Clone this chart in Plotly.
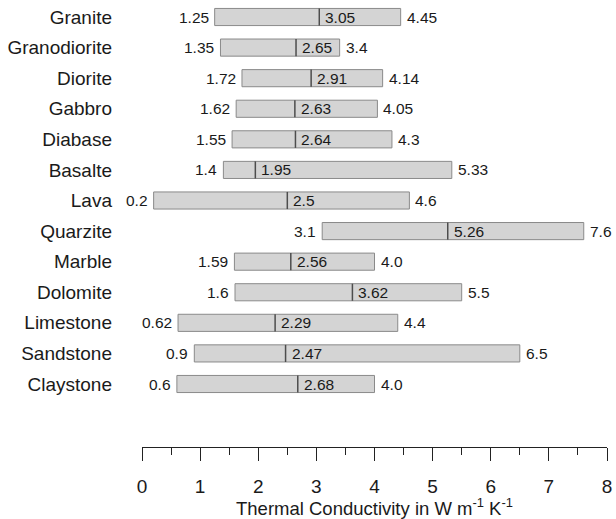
import plotly.graph_objects as go

rocks = ["Granite", "Granodiorite", "Diorite", "Gabbro", "Diabase", "Basalte", "Lava",
         "Quarzite", "Marble", "Dolomite", "Limestone", "Sandstone", "Claystone"]
mins = [1.25, 1.35, 1.72, 1.62, 1.55, 1.4, 0.2, 3.1, 1.59, 1.6, 0.62, 0.9, 0.6]
means = [3.05, 2.65, 2.91, 2.63, 2.64, 1.95, 2.5, 5.26, 2.56, 3.62, 2.29, 2.47, 2.68]
maxs = [4.45, 3.4, 4.14, 4.05, 4.3, 5.33, 4.6, 7.6, 4.0, 5.5, 4.4, 6.5, 4.0]
min_lbl = ["1.25", "1.35", "1.72", "1.62", "1.55", "1.4", "0.2", "3.1", "1.59", "1.6", "0.62", "0.9", "0.6"]
mean_lbl = ["3.05", "2.65", "2.91", "2.63", "2.64", "1.95", "2.5", "5.26", "2.56", "3.62", "2.29", "2.47", "2.68"]
max_lbl = ["4.45", "3.4", "4.14", "4.05", "4.3", "5.33", "4.6", "7.6", "4.0", "5.5", "4.4", "6.5", "4.0"]
x_ticks = [0, 1, 2, 3, 4, 5, 6, 7, 8]
x_title = "Thermal Conductivity in W m<sup>-1</sup> K<sup>-1</sup>"

FONT = "Liberation Sans, Arial, sans-serif"
TXT = "#1a1a1a"
ypos = list(range(len(rocks)))
half = 0.28

fig = go.Figure()
fig.add_trace(go.Bar(
    y=ypos, x=[mx - mn for mn, mx in zip(mins, maxs)], base=mins,
    orientation="h", width=2 * half,
    marker=dict(color="#d4d4d4", line=dict(color="#8a8a8a", width=1)),
    hoverinfo="skip", showlegend=False,
))

lx, ly = [], []
for i, m in enumerate(means):
    lx += [m, m, None]
    ly += [i - half, i + half, None]
fig.add_trace(go.Scatter(x=lx, y=ly, mode="lines",
                         line=dict(color="#4d4d4d", width=1.5),
                         hoverinfo="skip", showlegend=False))

VS = 15.5
ann = []
for i in range(len(rocks)):
    ann.append(dict(x=mins[i], y=i, xref="x", yref="y", text=min_lbl[i],
                    showarrow=False, xanchor="right", xshift=-4,
                    font=dict(size=VS, color=TXT, family=FONT)))
    ann.append(dict(x=means[i], y=i, xref="x", yref="y", text=mean_lbl[i],
                    showarrow=False, xanchor="left", xshift=4,
                    font=dict(size=VS, color=TXT, family=FONT)))
    ann.append(dict(x=maxs[i], y=i, xref="x", yref="y", text=max_lbl[i],
                    showarrow=False, xanchor="left", xshift=4,
                    font=dict(size=VS, color=TXT, family=FONT)))
ann.append(dict(x=0.5, y=-(507 - 447) / 447, xref="paper", yref="paper",
                text=x_title, showarrow=False, xanchor="center", yanchor="middle",
                font=dict(size=18.5, color=TXT, family=FONT)))

fig.update_layout(
    width=616, height=519,
    margin=dict(l=142, r=9, t=0, b=72),
    plot_bgcolor="white", paper_bgcolor="white",
    annotations=ann,
    xaxis=dict(
        range=[0, 8], tickvals=x_ticks, automargin=False,
        showgrid=False, zeroline=False,
        showline=True, linecolor="#222", linewidth=1.2,
        ticks="outside", ticklen=13, tickcolor="#222", tickwidth=1.2,
        minor=dict(dtick=0.5, ticks="outside", ticklen=7, tickcolor="#222", tickwidth=1.2, showgrid=False),
        tickfont=dict(size=19, color=TXT, family=FONT),
        ticklabelstandoff=9,
    ),
    yaxis=dict(
        range=[14.06, -0.556], tickvals=ypos, ticktext=rocks, automargin=False,
        showgrid=False, zeroline=False, showline=False,
        ticks="", tickfont=dict(size=19, color=TXT, family=FONT),
        ticklabelstandoff=29,
    ),
)
fig.write_html("out.html", config={"displayModeBar": False},
               post_script="document.body.style.margin='0px';document.body.style.overflow='hidden';")
